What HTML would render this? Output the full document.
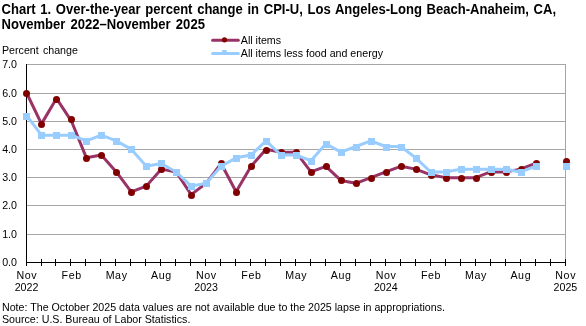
<!DOCTYPE html><html><head><meta charset="utf-8"><style>html,body{margin:0;padding:0;background:#fff;}svg{display:block;will-change:transform;}</style></head><body>
<svg width="586" height="326" viewBox="0 0 586 326">
<rect width="586" height="326" fill="#fff"/>
<text transform="translate(1.5,13.6) scale(0.98,1.1)" x="0" y="0" word-spacing="1.05" font-family="Liberation Sans, sans-serif" font-size="13.33" font-weight="bold" fill="#000">Chart 1. Over-the-year percent change in CPI-U, Los Angeles-Long Beach-Anaheim, CA,</text>
<text transform="translate(1.5,28.9) scale(0.98,1.1)" x="0" y="0" word-spacing="1.6" font-family="Liberation Sans, sans-serif" font-size="13.33" font-weight="bold" fill="#000">November 2022–November 2025</text>
<text x="2" y="54.2" font-family="Liberation Sans, sans-serif" font-size="10.67" word-spacing="1.2" fill="#000">Percent change</text>
<line x1="212.6" y1="40.2" x2="238.3" y2="40.2" stroke="#993366" stroke-width="3" stroke-linecap="round"/>
<circle cx="224.5" cy="39.8" r="2.6" fill="#800000"/>
<line x1="212.6" y1="53.5" x2="238.3" y2="53.5" stroke="#99ccff" stroke-width="3" stroke-linecap="round"/>
<rect x="222.2" y="50" width="4.5" height="4" fill="#99ccff"/>
<text x="240.8" y="43.6" font-family="Liberation Sans, sans-serif" font-size="10.67" fill="#000">All items</text>
<text x="240.8" y="57.4" font-family="Liberation Sans, sans-serif" font-size="10.67" fill="#000">All items less food and energy</text>
<line x1="27" y1="234.5" x2="566" y2="234.5" stroke="#a6a6a6" stroke-width="1"/>
<line x1="27" y1="205.5" x2="566" y2="205.5" stroke="#a6a6a6" stroke-width="1"/>
<line x1="27" y1="177.5" x2="566" y2="177.5" stroke="#a6a6a6" stroke-width="1"/>
<line x1="27" y1="149.5" x2="566" y2="149.5" stroke="#a6a6a6" stroke-width="1"/>
<line x1="27" y1="121.5" x2="566" y2="121.5" stroke="#a6a6a6" stroke-width="1"/>
<line x1="27" y1="93.5" x2="566" y2="93.5" stroke="#a6a6a6" stroke-width="1"/>
<line x1="27" y1="64.5" x2="566" y2="64.5" stroke="#a6a6a6" stroke-width="1"/>
<line x1="565.5" y1="64" x2="565.5" y2="262" stroke="#a6a6a6" stroke-width="1"/>
<text x="17" y="266.1" font-family="Liberation Sans, sans-serif" font-size="10.67" text-anchor="end" fill="#000">0.0</text>
<text x="17" y="238.1" font-family="Liberation Sans, sans-serif" font-size="10.67" text-anchor="end" fill="#000">1.0</text>
<text x="17" y="209.1" font-family="Liberation Sans, sans-serif" font-size="10.67" text-anchor="end" fill="#000">2.0</text>
<text x="17" y="181.1" font-family="Liberation Sans, sans-serif" font-size="10.67" text-anchor="end" fill="#000">3.0</text>
<text x="17" y="153.1" font-family="Liberation Sans, sans-serif" font-size="10.67" text-anchor="end" fill="#000">4.0</text>
<text x="17" y="125.1" font-family="Liberation Sans, sans-serif" font-size="10.67" text-anchor="end" fill="#000">5.0</text>
<text x="17" y="97.1" font-family="Liberation Sans, sans-serif" font-size="10.67" text-anchor="end" fill="#000">6.0</text>
<text x="17" y="68.1" font-family="Liberation Sans, sans-serif" font-size="10.67" text-anchor="end" fill="#000">7.0</text>
<line x1="26.5" y1="64" x2="26.5" y2="266" stroke="#000" stroke-width="1"/>
<line x1="26" y1="262.5" x2="566" y2="262.5" stroke="#000" stroke-width="1"/>
<line x1="26.5" y1="259" x2="26.5" y2="266" stroke="#000" stroke-width="1"/>
<line x1="41.5" y1="259" x2="41.5" y2="266" stroke="#000" stroke-width="1"/>
<line x1="55.5" y1="259" x2="55.5" y2="266" stroke="#000" stroke-width="1"/>
<line x1="70.5" y1="259" x2="70.5" y2="266" stroke="#000" stroke-width="1"/>
<line x1="85.5" y1="259" x2="85.5" y2="266" stroke="#000" stroke-width="1"/>
<line x1="100.5" y1="259" x2="100.5" y2="266" stroke="#000" stroke-width="1"/>
<line x1="115.5" y1="259" x2="115.5" y2="266" stroke="#000" stroke-width="1"/>
<line x1="130.5" y1="259" x2="130.5" y2="266" stroke="#000" stroke-width="1"/>
<line x1="145.5" y1="259" x2="145.5" y2="266" stroke="#000" stroke-width="1"/>
<line x1="160.5" y1="259" x2="160.5" y2="266" stroke="#000" stroke-width="1"/>
<line x1="175.5" y1="259" x2="175.5" y2="266" stroke="#000" stroke-width="1"/>
<line x1="190.5" y1="259" x2="190.5" y2="266" stroke="#000" stroke-width="1"/>
<line x1="205.5" y1="259" x2="205.5" y2="266" stroke="#000" stroke-width="1"/>
<line x1="220.5" y1="259" x2="220.5" y2="266" stroke="#000" stroke-width="1"/>
<line x1="235.5" y1="259" x2="235.5" y2="266" stroke="#000" stroke-width="1"/>
<line x1="250.5" y1="259" x2="250.5" y2="266" stroke="#000" stroke-width="1"/>
<line x1="265.5" y1="259" x2="265.5" y2="266" stroke="#000" stroke-width="1"/>
<line x1="280.5" y1="259" x2="280.5" y2="266" stroke="#000" stroke-width="1"/>
<line x1="295.5" y1="259" x2="295.5" y2="266" stroke="#000" stroke-width="1"/>
<line x1="310.5" y1="259" x2="310.5" y2="266" stroke="#000" stroke-width="1"/>
<line x1="325.5" y1="259" x2="325.5" y2="266" stroke="#000" stroke-width="1"/>
<line x1="340.5" y1="259" x2="340.5" y2="266" stroke="#000" stroke-width="1"/>
<line x1="355.5" y1="259" x2="355.5" y2="266" stroke="#000" stroke-width="1"/>
<line x1="370.5" y1="259" x2="370.5" y2="266" stroke="#000" stroke-width="1"/>
<line x1="385.5" y1="259" x2="385.5" y2="266" stroke="#000" stroke-width="1"/>
<line x1="400.5" y1="259" x2="400.5" y2="266" stroke="#000" stroke-width="1"/>
<line x1="415.5" y1="259" x2="415.5" y2="266" stroke="#000" stroke-width="1"/>
<line x1="430.5" y1="259" x2="430.5" y2="266" stroke="#000" stroke-width="1"/>
<line x1="445.5" y1="259" x2="445.5" y2="266" stroke="#000" stroke-width="1"/>
<line x1="460.5" y1="259" x2="460.5" y2="266" stroke="#000" stroke-width="1"/>
<line x1="475.5" y1="259" x2="475.5" y2="266" stroke="#000" stroke-width="1"/>
<line x1="490.5" y1="259" x2="490.5" y2="266" stroke="#000" stroke-width="1"/>
<line x1="505.5" y1="259" x2="505.5" y2="266" stroke="#000" stroke-width="1"/>
<line x1="520.5" y1="259" x2="520.5" y2="266" stroke="#000" stroke-width="1"/>
<line x1="535.5" y1="259" x2="535.5" y2="266" stroke="#000" stroke-width="1"/>
<line x1="550.5" y1="259" x2="550.5" y2="266" stroke="#000" stroke-width="1"/>
<line x1="565.5" y1="259" x2="565.5" y2="266" stroke="#000" stroke-width="1"/>
<text x="26.8" y="278.5" font-family="Liberation Sans, sans-serif" font-size="10.67" letter-spacing="0.6" text-anchor="middle" fill="#000">Nov</text>
<text x="26.5" y="291" font-family="Liberation Sans, sans-serif" font-size="10.67" text-anchor="middle" fill="#000">2022</text>
<text x="71.7" y="278.5" font-family="Liberation Sans, sans-serif" font-size="10.67" letter-spacing="0.6" text-anchor="middle" fill="#000">Feb</text>
<text x="116.6" y="278.5" font-family="Liberation Sans, sans-serif" font-size="10.67" letter-spacing="0.6" text-anchor="middle" fill="#000">May</text>
<text x="161.5" y="278.5" font-family="Liberation Sans, sans-serif" font-size="10.67" letter-spacing="0.6" text-anchor="middle" fill="#000">Aug</text>
<text x="206.4" y="278.5" font-family="Liberation Sans, sans-serif" font-size="10.67" letter-spacing="0.6" text-anchor="middle" fill="#000">Nov</text>
<text x="206.1" y="291" font-family="Liberation Sans, sans-serif" font-size="10.67" text-anchor="middle" fill="#000">2023</text>
<text x="251.4" y="278.5" font-family="Liberation Sans, sans-serif" font-size="10.67" letter-spacing="0.6" text-anchor="middle" fill="#000">Feb</text>
<text x="296.3" y="278.5" font-family="Liberation Sans, sans-serif" font-size="10.67" letter-spacing="0.6" text-anchor="middle" fill="#000">May</text>
<text x="341.2" y="278.5" font-family="Liberation Sans, sans-serif" font-size="10.67" letter-spacing="0.6" text-anchor="middle" fill="#000">Aug</text>
<text x="386.1" y="278.5" font-family="Liberation Sans, sans-serif" font-size="10.67" letter-spacing="0.6" text-anchor="middle" fill="#000">Nov</text>
<text x="385.8" y="291" font-family="Liberation Sans, sans-serif" font-size="10.67" text-anchor="middle" fill="#000">2024</text>
<text x="431.0" y="278.5" font-family="Liberation Sans, sans-serif" font-size="10.67" letter-spacing="0.6" text-anchor="middle" fill="#000">Feb</text>
<text x="475.9" y="278.5" font-family="Liberation Sans, sans-serif" font-size="10.67" letter-spacing="0.6" text-anchor="middle" fill="#000">May</text>
<text x="520.8" y="278.5" font-family="Liberation Sans, sans-serif" font-size="10.67" letter-spacing="0.6" text-anchor="middle" fill="#000">Aug</text>
<text x="565.7" y="278.5" font-family="Liberation Sans, sans-serif" font-size="10.67" letter-spacing="0.6" text-anchor="middle" fill="#000">Nov</text>
<text x="565.4" y="291" font-family="Liberation Sans, sans-serif" font-size="10.67" text-anchor="middle" fill="#000">2025</text>
<polyline fill="none" stroke="#993366" stroke-width="3" stroke-linejoin="round" points="26.50,92.76 41.47,123.88 56.44,98.42 71.41,121.05 86.38,157.83 101.35,155.00 116.32,171.97 131.29,191.78 146.26,186.12 161.23,169.14 176.20,171.97 191.17,194.60 206.14,183.29 221.11,163.49 236.08,191.78 251.05,166.31 266.02,149.34 280.99,152.17 295.96,152.17 310.93,171.97 325.90,166.31 340.87,180.46 355.84,183.29 370.81,177.63 385.78,171.97 400.75,166.31 415.72,169.14 430.69,174.80 445.66,177.63 460.63,177.63 475.60,177.63 490.57,171.97 505.54,171.97 520.51,169.14 535.48,163.49"/>
<circle cx="26.50" cy="93.50" r="3.5" fill="#800000"/>
<circle cx="41.50" cy="124.50" r="3.5" fill="#800000"/>
<circle cx="56.50" cy="99.50" r="3.5" fill="#800000"/>
<circle cx="71.50" cy="119.50" r="3.5" fill="#800000"/>
<circle cx="86.50" cy="158.50" r="3.5" fill="#800000"/>
<circle cx="101.50" cy="155.50" r="3.5" fill="#800000"/>
<circle cx="116.50" cy="172.50" r="3.5" fill="#800000"/>
<circle cx="131.50" cy="192.50" r="3.5" fill="#800000"/>
<circle cx="146.50" cy="186.50" r="3.5" fill="#800000"/>
<circle cx="161.50" cy="169.50" r="3.5" fill="#800000"/>
<circle cx="176.50" cy="172.50" r="3.5" fill="#800000"/>
<circle cx="191.50" cy="195.50" r="3.5" fill="#800000"/>
<circle cx="206.50" cy="183.50" r="3.5" fill="#800000"/>
<circle cx="221.50" cy="163.50" r="3.5" fill="#800000"/>
<circle cx="236.50" cy="192.50" r="3.5" fill="#800000"/>
<circle cx="251.50" cy="166.50" r="3.5" fill="#800000"/>
<circle cx="266.50" cy="150.50" r="3.5" fill="#800000"/>
<circle cx="281.50" cy="152.50" r="3.5" fill="#800000"/>
<circle cx="296.50" cy="152.50" r="3.5" fill="#800000"/>
<circle cx="311.50" cy="172.50" r="3.5" fill="#800000"/>
<circle cx="326.50" cy="166.50" r="3.5" fill="#800000"/>
<circle cx="341.50" cy="180.50" r="3.5" fill="#800000"/>
<circle cx="356.50" cy="183.50" r="3.5" fill="#800000"/>
<circle cx="371.50" cy="178.50" r="3.5" fill="#800000"/>
<circle cx="386.50" cy="172.50" r="3.5" fill="#800000"/>
<circle cx="401.50" cy="166.50" r="3.5" fill="#800000"/>
<circle cx="416.50" cy="169.50" r="3.5" fill="#800000"/>
<circle cx="431.50" cy="175.50" r="3.5" fill="#800000"/>
<circle cx="446.50" cy="178.50" r="3.5" fill="#800000"/>
<circle cx="461.50" cy="178.50" r="3.5" fill="#800000"/>
<circle cx="476.50" cy="178.50" r="3.5" fill="#800000"/>
<circle cx="491.50" cy="172.50" r="3.5" fill="#800000"/>
<circle cx="506.50" cy="172.50" r="3.5" fill="#800000"/>
<circle cx="521.50" cy="169.50" r="3.5" fill="#800000"/>
<circle cx="536.50" cy="163.50" r="3.5" fill="#800000"/>
<circle cx="566.50" cy="161.50" r="3.5" fill="#800000"/>
<polyline fill="none" stroke="#99ccff" stroke-width="3" stroke-linejoin="round" points="26.50,115.39 41.47,135.19 56.44,135.19 71.41,135.19 86.38,140.85 101.35,135.19 116.32,140.85 131.29,149.34 146.26,166.31 161.23,163.49 176.20,171.97 191.17,186.12 206.14,183.29 221.11,166.31 236.08,157.83 251.05,155.00 266.02,140.85 280.99,155.00 295.96,155.00 310.93,160.66 325.90,143.68 340.87,152.17 355.84,146.51 370.81,140.85 385.78,146.51 400.75,146.51 415.72,157.83 430.69,171.97 445.66,171.97 460.63,169.14 475.60,169.14 490.57,169.14 505.54,169.14 520.51,171.97 535.48,166.31"/>
<rect x="23.00" y="113.00" width="7" height="7" fill="#99ccff"/>
<rect x="38.00" y="132.00" width="7" height="7" fill="#99ccff"/>
<rect x="53.00" y="132.00" width="7" height="7" fill="#99ccff"/>
<rect x="68.00" y="132.00" width="7" height="7" fill="#99ccff"/>
<rect x="83.00" y="138.00" width="7" height="7" fill="#99ccff"/>
<rect x="98.00" y="132.00" width="7" height="7" fill="#99ccff"/>
<rect x="113.00" y="138.00" width="7" height="7" fill="#99ccff"/>
<rect x="128.00" y="146.00" width="7" height="7" fill="#99ccff"/>
<rect x="143.00" y="163.00" width="7" height="7" fill="#99ccff"/>
<rect x="158.00" y="160.00" width="7" height="7" fill="#99ccff"/>
<rect x="173.00" y="169.00" width="7" height="7" fill="#99ccff"/>
<rect x="188.00" y="183.00" width="7" height="7" fill="#99ccff"/>
<rect x="203.00" y="180.00" width="7" height="7" fill="#99ccff"/>
<rect x="218.00" y="163.00" width="7" height="7" fill="#99ccff"/>
<rect x="233.00" y="155.00" width="7" height="7" fill="#99ccff"/>
<rect x="248.00" y="152.00" width="7" height="7" fill="#99ccff"/>
<rect x="263.00" y="138.00" width="7" height="7" fill="#99ccff"/>
<rect x="278.00" y="152.00" width="7" height="7" fill="#99ccff"/>
<rect x="293.00" y="152.00" width="7" height="7" fill="#99ccff"/>
<rect x="308.00" y="158.00" width="7" height="7" fill="#99ccff"/>
<rect x="323.00" y="141.00" width="7" height="7" fill="#99ccff"/>
<rect x="338.00" y="149.00" width="7" height="7" fill="#99ccff"/>
<rect x="353.00" y="144.00" width="7" height="7" fill="#99ccff"/>
<rect x="368.00" y="138.00" width="7" height="7" fill="#99ccff"/>
<rect x="383.00" y="144.00" width="7" height="7" fill="#99ccff"/>
<rect x="398.00" y="144.00" width="7" height="7" fill="#99ccff"/>
<rect x="413.00" y="155.00" width="7" height="7" fill="#99ccff"/>
<rect x="428.00" y="169.00" width="7" height="7" fill="#99ccff"/>
<rect x="443.00" y="169.00" width="7" height="7" fill="#99ccff"/>
<rect x="458.00" y="166.00" width="7" height="7" fill="#99ccff"/>
<rect x="473.00" y="166.00" width="7" height="7" fill="#99ccff"/>
<rect x="488.00" y="166.00" width="7" height="7" fill="#99ccff"/>
<rect x="503.00" y="166.00" width="7" height="7" fill="#99ccff"/>
<rect x="518.00" y="169.00" width="7" height="7" fill="#99ccff"/>
<rect x="533.00" y="163.00" width="7" height="7" fill="#99ccff"/>
<rect x="563.00" y="163.00" width="7" height="7" fill="#99ccff"/>
<text x="2" y="310.8" font-family="Liberation Sans, sans-serif" font-size="10.67" fill="#000">Note: The October 2025 data values are not available due to the 2025 lapse in appropriations.</text>
<text x="2" y="322.6" font-family="Liberation Sans, sans-serif" font-size="10.67" fill="#000">Source: U.S. Bureau of Labor Statistics.</text>
</svg></body></html>
